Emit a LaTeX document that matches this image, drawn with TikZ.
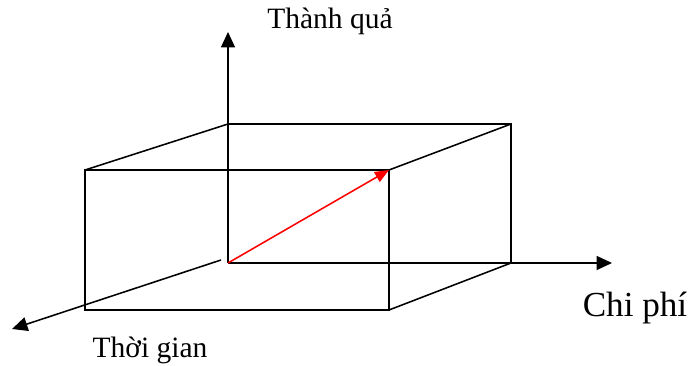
\documentclass[tikz,border=0pt]{standalone}
\usepackage{fontspec}
\setmainfont{Liberation Serif}
\usetikzlibrary{arrows.meta}

\begin{document}
\begin{tikzpicture}[x=0.025cm,y=-0.025cm,line width=1.1pt,
    >={Triangle[length=11pt,width=10pt]},
    lbl/.style={anchor=base,font=\fontsize{21}{25}\selectfont}]
  \useasboundingbox (0,0) rectangle (691,366);
  % goc toa do va cac dinh cua hop
  \coordinate (O) at (228,263);
  \coordinate (A) at (85,170);
  \coordinate (B) at (389,170);
  \coordinate (C) at (389,310);
  \coordinate (D) at (85,310);
  \coordinate (E) at (228,124);
  \coordinate (F) at (511,124);
  \coordinate (G) at (511,263);
  \coordinate (yend) at (228,32);
  \coordinate (xend) at (612,263);
  \coordinate (tstart) at (221,260);
  \coordinate (tend) at (12,329);
  % hop
  \draw (A) rectangle (C);
  \draw (A) -- (E) -- (F) -- (G);
  \draw (B) -- (F);
  \draw (C) -- (G);
  % cac truc
  \draw[->] (O) -- (yend);
  \draw[->] (O) -- (xend);
  \draw[->] (tstart) -- (tend);
  \draw[->, red, >={Triangle[length=10pt,width=8pt]}] (O) -- (B);
  \node[lbl] (tq) at (330,29) {Thành quả};
  \node[lbl, font=\fontsize{25}{30}\selectfont] (cp) at (635,317) {Chi phí};
  \node[lbl] (tg) at (150,358) {Thời gian};
\end{tikzpicture}
\end{document}
